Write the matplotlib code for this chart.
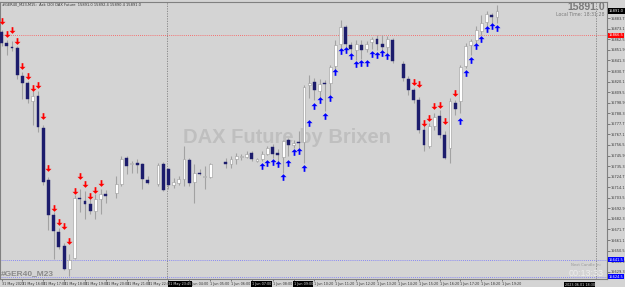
import numpy as np
import matplotlib.pyplot as plt
from matplotlib.path import Path
from matplotlib.transforms import blended_transform_factory

# candle data (price), None = no visible bar
opens = [15869.5, 15858.5, 15854.5, 15853.5, 15825.5, 15818.5, 15801, 15806, 15773.5, 15721,
         15686, 15669.5, 15655.5, 15632, 15643.5, 15703.5, 15700.5, 15697, 15690.5, 15702,
         15707, None, 15708, 15717.5, 15743.5, 15737.5, 15738, 15737.5, 15721.5, None,
         15717.5, 15737.5, 15732, 15716.5, 15718, 15722, 15741.5, 15719.5, 15728.5, 15724.5,
         15724.5, None, None, 15739.5, 15737, 15742, 15744.5, 15744.5, 15748, 15740.5,
         15742.5, 15747.5, 15754.5, 15748, 15744.5, 15761.5, 15756.5, 15759.5, 15759.5, 15816.5,
         15819.5, 15811, 15818.5, 15818.5, 15835.5, 15858, 15874.5, 15857, 15852, 15857,
         15852.5, 15859.5, 15862.5, 15857.5, 15854.5, 15862, None, 15837.5, 15823, 15811.5,
         15802, 15772, 15755.5, 15775.5, 15785.5, 15767, 15753.5, 15798.5, 15800.5, 15835.5,
         15857, 15862, 15870.5, 15879.5, 15886.5, 15884.5]
highs = [15872, 15862, 15860.5, 15856, 15829.5, 15821, 15810.5, 15811, 15777, 15724,
         15689, 15673, 15658, 15647, 15706, 15712, 15710.5, 15702, 15707, 15712,
         15711.5, None, 15725.5, 15745.5, 15745.5, 15740.5, 15742, 15738.5, 15725, None,
         15738, 15739, 15733, 15723.5, 15725, 15755.5, 15743.5, 15737, 15732, 15735.5,
         15738.5, None, None, 15743, 15745.5, 15748.5, 15747, 15750.5, 15750.5, 15743,
         15750.5, 15755, 15757, 15752, 15762, 15763.5, 15761.5, 15770.5, 15817, 15827,
         15824, 15822.5, 15822, 15837, 15862, 15882, 15877, 15859.5, 15862, 15861.5,
         15860.5, 15864.5, 15867, 15867, 15865.5, 15864, None, 15840.5, 15825.5, 15813.5,
         15804.5, 15777, 15778.5, 15788.5, 15792, 15770.5, 15803.5, 15802, 15837, 15858.5,
         15862.5, 15875.5, 15887, 15890.5, 15888.5, 15897]
lows = [15856, 15846.5, 15850.5, 15823, 15803, 15799, 15777, 15769.5, 15716.5, 15671.5,
        15642, 15652, 15631, 15625.5, 15642, 15689, 15682.5, 15687, 15682.5, 15687,
        15698.5, None, 15703.5, 15715.5, 15727, 15728.5, 15728.5, 15712.5, 15717, None,
        15715.5, 15710, 15712, 15713.5, 15716, 15715.5, 15715.5, 15698.5, 15726, 15712,
        15723.5, None, None, 15733, 15733.5, 15737, 15741.5, 15743.5, 15740.5, 15739,
        15740.5, 15746, 15743.5, 15738.5, 15728.5, 15745.5, 15753.5, 15748.5, 15738.5, 15803.5,
        15802, 15803.5, 15790.5, 15807, 15832, 15853.5, 15853.5, 15848.5, 15842, 15842.5,
        15849.5, 15852.5, 15852, 15850.5, 15845.5, 15839, None, 15820.5, 15807, 15798.5,
        15768.5, 15750.5, 15753.5, 15772, 15763.5, 15742.5, 15738.5, 15787, 15788.5, 15833.5,
        15847, 15855.5, 15867, 15870.5, 15877, 15878.5]
closes = [15858.5, 15856, 15854, 15827, 15818.5, 15802.5, 15805.5, 15774.5, 15719.5, 15686,
          15670, 15654.5, 15632, 15641.5, 15703.5, 15702, 15697, 15690.5, 15702, 15707,
          15705.5, None, 15717.5, 15742.5, 15735.5, 15738, 15736.5, 15722, 15718, None,
          15736.5, 15711.5, 15716.5, 15719.5, 15722, 15742, 15718.5, 15728.5, 15727, 15725,
          15737.5, None, None, 15737.5, 15742.5, 15745.5, 15745.5, 15747.5, 15742, 15742,
          15747.5, 15753, 15747.5, 15746.5, 15761, 15756, 15758.5, 15758, 15814.5, 15818.5,
          15811.5, 15817.5, 15817.5, 15834.5, 15857, 15874.5, 15858, 15852.5, 15858, 15851.5,
          15858, 15862.5, 15858, 15854.5, 15862.5, 15840.5, None, 15823.5, 15811.5, 15802,
          15772, 15756.5, 15776, 15784.5, 15767, 15743.5, 15800.5, 15792.5, 15834.5, 15855.5,
          15860.5, 15872, 15878.5, 15888, 15884.5, 15891]

# signal arrows: bar index and price
sell_idx = [0, 1, 2, 3, 4, 5, 6, 7, 8, 9, 10, 11, 12, 13, 14, 15, 16, 17, 18, 19,
            79, 80, 81, 82, 83, 84, 85, 87]
sell_price = [15880.5, 15867.5, 15871.5, 15860.5, 15835.5, 15825.5, 15813.5, 15817, 15785.5, 15733.5,
              15693.5, 15679.5, 15675, 15660, 15710.5, 15725, 15717, 15705.5, 15711.5, 15718.5,
              15820, 15818, 15778.5, 15783.5, 15795.5, 15797, 15781, 15808.5]
buy_idx = [50, 51, 52, 53, 54, 55, 56, 57, 58, 59, 60, 61, 62, 63, 64, 65, 66, 67, 68, 69,
           70, 71, 72, 73, 74, 88, 89, 90, 91, 92, 93, 94, 95]
buy_price = [15735, 15738.5, 15739.5, 15737, 15724, 15738.5, 15749.5, 15750.5, 15733, 15779,
             15795.5, 15801.5, 15786, 15803.5, 15829.5, 15851, 15852, 15846, 15837.5, 15838.5,
             15838.5, 15848, 15846.5, 15848.5, 15845.5, 15780.5, 15828.5, 15841.5, 15855.5, 15862.5,
             15872.5, 15875.5, 15874]

red_level = 15866.5
blue_levels = [15641.5, 15624.5]
current_price = 15891.0

y_ticks = [15883.7, 15873.1, 15862.5, 15851.9, 15841.3, 15830.7, 15820.1, 15809.5, 15798.9, 15788.3,
           15777.7, 15767.1, 15756.5, 15745.9, 15735.3, 15724.7, 15714.1, 15703.5, 15692.9, 15682.3,
           15671.7, 15661.1, 15650.5, 15639.9, 15629.3]
x_tick_pos = list(range(0, 100, 4))
x_tick_labels = ['31 May 2023', '31 May 16:00', '31 May 17:00', '31 May 18:00', '31 May 19:00',
                 '31 May 20:00', '31 May 21:00', '31 May 22:00', '31 May 23:45', '1 Jun 04:00',
                 '1 Jun 05:00', '1 Jun 06:00', '1 Jun 07:00', '1 Jun 08:00', '1 Jun 09:00',
                 '1 Jun 10:20', '1 Jun 11:20', '1 Jun 12:20', '1 Jun 13:20', '1 Jun 14:20',
                 '1 Jun 15:20', '1 Jun 16:20', '1 Jun 17:20', '1 Jun 18:20', '1 Jun 19:20']
x_boxed = {8: '31 May 23:45', 12: '1 Jun 07:00', 14: '1 Jun 09:00'}
extra_box_pos = 108.0
extra_box_text = '2023.06.01 18:30'

bg = '#d4d4d4'
bear_col = '#1c1c6c'
wick_col = '#a2a2a2'

fig = plt.figure(figsize=(6.25, 2.87), dpi=100, facecolor=bg)
ax = fig.add_axes([0, 8 / 287, 607 / 625, 277 / 287], facecolor=bg)

# candles
for i in range(len(opens)):
    o, h, l, c = opens[i], highs[i], lows[i], closes[i]
    if o is None:
        continue
    ax.vlines(i, l, h, color=wick_col, lw=0.8, zorder=2)
    bottom = min(o, c)
    height = max(abs(c - o), 0.8)
    if c >= o:
        ax.bar(i, height, bottom=bottom, width=0.55, color='white', edgecolor='#9a9a9a', lw=0.4, zorder=3)
    else:
        ax.bar(i, height, bottom=bottom, width=0.55, color=bear_col, edgecolor=bear_col, lw=0.3, zorder=3)

# arrow markers
down_arrow = Path([(-0.13, 0.5), (0.13, 0.5), (0.13, -0.05), (0.45, -0.05), (0, -0.5),
                   (-0.45, -0.05), (-0.13, -0.05), (-0.13, 0.5)], closed=True)
up_arrow = Path([(x, -y) for x, y in down_arrow.vertices], closed=True)
ax.plot(sell_idx, sell_price, ls='none', marker=down_arrow, ms=4.8, color='#ff0000', mew=0, zorder=4)
ax.plot(buy_idx, buy_price, ls='none', marker=up_arrow, ms=4.8, color='#0000ff', mew=0, zorder=4)

# levels and separators
ax.axhline(red_level, color='#ff5050', ls=(0, (1, 1.5)), lw=0.6, zorder=1)
for lv in blue_levels:
    ax.axhline(lv, color='#7070ff', ls=(0, (1, 1.5)), lw=0.6, zorder=1)
for xv in [31.7, 114.0]:
    ax.axvline(xv, color='#808080', ls=(0, (1.5, 1.5)), lw=0.6, zorder=1)

ax.set_xlim(-0.29, 116.1)
ax.set_ylim(15622, 15900)

# axes styling
for s in ax.spines.values():
    s.set_color('#808080')
    s.set_linewidth(0.8)
ax.yaxis.tick_right()
ax.set_yticks(y_ticks)
ax.set_yticklabels(['%.1f' % v for v in y_ticks], fontsize=2.5, color='#333333')
ax.tick_params(axis='y', length=1.8, width=0.5, pad=1.0, colors='#555555', labelcolor='#333333')
ax.set_xticks(x_tick_pos)
ax.set_xticklabels(x_tick_labels, fontsize=2.4, color='#333333', ha='left')
ax.tick_params(axis='x', length=1.5, width=0.5, pad=0.6, colors='#555555', labelcolor='#333333')
for k, lab in enumerate(ax.get_xticklabels()):
    if k in x_boxed:
        lab.set_color('#dddddd')
        lab.set_bbox(dict(boxstyle='square,pad=0.2', fc='black', ec='none'))
xtrans = blended_transform_factory(ax.transData, ax.transAxes)
ax.text(extra_box_pos, -0.02, extra_box_text, transform=xtrans, fontsize=2.4, color='#dddddd',
        ha='left', va='center', bbox=dict(boxstyle='square,pad=0.2', fc='black', ec='none'), clip_on=False)

# price boxes on right axis
trans = blended_transform_factory(ax.transAxes, ax.transData)
box_items = [(current_price, '15891.0', 'black', 'white'),
             (red_level, '15866.5', '#ff0000', 'white'),
             (blue_levels[0], '15641.5', '#0000ff', 'white'),
             (blue_levels[1], '15624.5', '#0000ff', 'white')]
for val, txt, fc, tc in box_items:
    ax.text(1.003, val, txt, transform=trans, fontsize=2.6, color=tc, va='center', ha='left',
            bbox=dict(boxstyle='square,pad=0.2', fc=fc, ec='none'), zorder=10, clip_on=False)

# watermark and texts
ax.text(287 / 607, 0.51, 'DAX Future by Brixen', transform=ax.transAxes, fontsize=14.5,
        fontweight='bold', color='#bfbfbf', ha='center', va='center', family='Liberation Sans', zorder=0)
fig.text(605 / 625, 1 - 7 / 287, '15891.0', fontsize=7.5, fontweight='bold', color='#7a7a7a',
         ha='right', va='center', family='Liberation Sans')
fig.text(605 / 625, 1 - 14 / 287, 'Local Time: 18:31:28', fontsize=3.3, color='#7a7a7a',
         ha='right', va='center')
fig.text(2 / 625, 1 - 4 / 287, '#GER40_M23,M15:  Ask (20) DAX Future  15891.0 15892.4 15890.4 15891.0',
         fontsize=2.6, color='#333333', ha='left', va='center')
fig.text(1 / 625, 1 - 274 / 287, '#GER40_M23', fontsize=6, fontweight='bold', color='#8a8a8a',
         ha='left', va='center', family='Liberation Sans')
fig.text(601 / 625, 1 - 265 / 287, 'Next Candle in:', fontsize=2.8, color='#9a9a9a',
         ha='right', va='center')
fig.text(604 / 625, 1 - 273 / 287, '00:13:33', fontsize=6.5, color='#eeeeee',
         ha='right', va='center', family='Liberation Sans')

fig.savefig('out.png', dpi=100, facecolor=bg)
